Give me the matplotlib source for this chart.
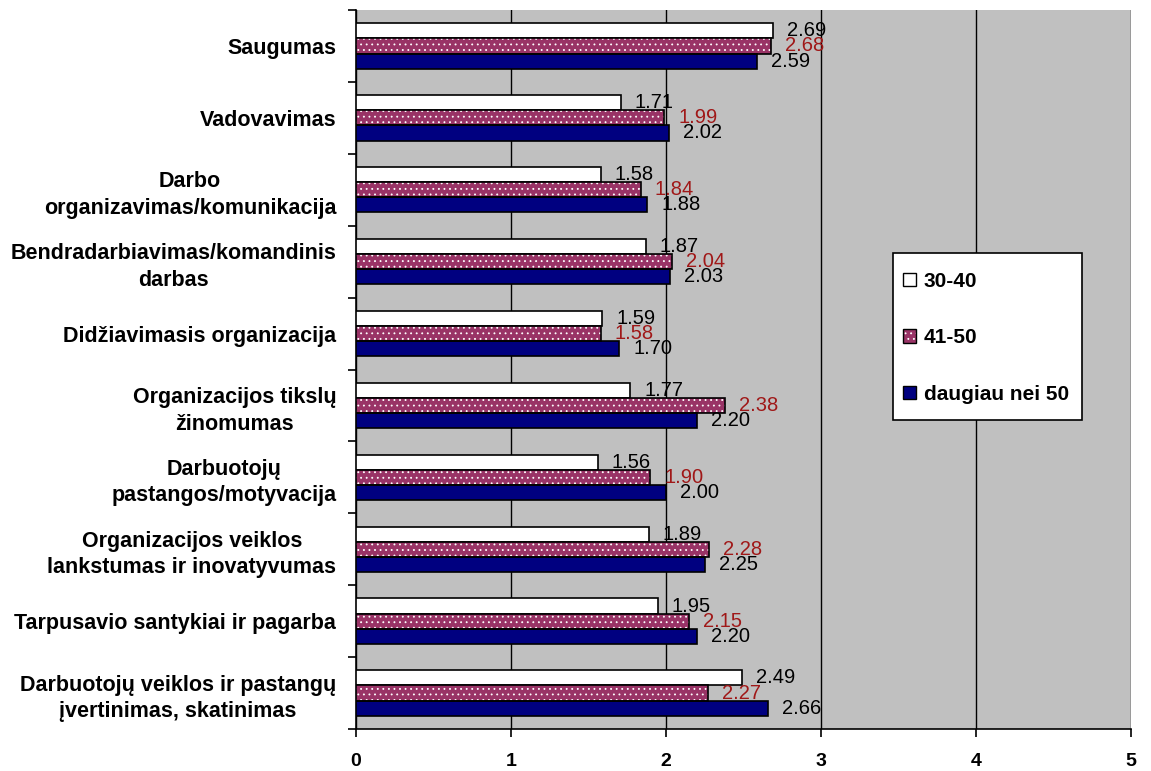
import matplotlib.pyplot as plt
import numpy as np
from matplotlib.patches import Patch, Rectangle

plt.rcParams['font.family'] = ['Liberation Sans', 'DejaVu Sans']
plt.rcParams['hatch.linewidth'] = 0.6

categories = [
    "Saugumas",
    "Vadovavimas",
    "Darbo\norganizavimas/komunikacija",
    "Bendradarbiavimas/komandinis\ndarbas",
    "Didžiavimasis organizacija",
    "Organizacijos tikslų\nžinomumas",
    "Darbuotojų\npastangos/motyvacija",
    "Organizacijos veiklos\nlankstumas ir inovatyvumas",
    "Tarpusavio santykiai ir pagarba",
    "Darbuotojų veiklos ir pastangų\nįvertinimas, skatinimas",
]
age_30_40 = [2.69, 1.71, 1.58, 1.87, 1.59, 1.77, 1.56, 1.89, 1.95, 2.49]
age_41_50 = [2.68, 1.99, 1.84, 2.04, 1.58, 2.38, 1.90, 2.28, 2.15, 2.27]
age_50_plus = [2.59, 2.02, 1.88, 2.03, 1.70, 2.20, 2.00, 2.25, 2.20, 2.66]
series_names = ["30-40", "41-50", "daugiau nei 50"]

fig = plt.figure(figsize=(11.51, 7.71), dpi=100)
ax = fig.add_axes([0.309, 0.0545, 0.6736, 0.9325])
ax.set_facecolor('#C0C0C0')

y = np.arange(len(categories))
h = 0.21

ax.barh(y - h, age_30_40, height=h, color='white', edgecolor='black',
        linewidth=1.2, zorder=3)
# dotted pink bars: fill with white dots, then black outline on top
ax.barh(y, age_41_50, height=h, color='#993366', edgecolor='white',
        hatch='...', linewidth=0, zorder=3)
ax.barh(y, age_41_50, height=h, color='none', edgecolor='black',
        linewidth=1.2, zorder=4)
ax.barh(y + h, age_50_plus, height=h, color='#000080', edgecolor='black',
        linewidth=1.2, zorder=3)

# value labels
for vals, off, col in [(age_30_40, -h, 'black'), (age_41_50, 0, '#A01818'),
                       (age_50_plus, h, 'black')]:
    for i, v in enumerate(vals):
        ax.text(v + 0.09, i + off, f"{v:.2f}", va='center', ha='left',
                fontsize=14.5, color=col, zorder=5)

ax.set_xlim(0, 5)
ax.set_ylim(len(categories) - 0.5, -0.5)
ax.set_xticks(range(6))
ax.set_xticklabels([str(i) for i in range(6)], fontsize=14, fontweight='bold')
ax.xaxis.grid(True, color='black', linewidth=1)
ax.set_axisbelow(True)

ax.set_yticks(y)
ax.set_yticklabels(categories, fontsize=15.5, fontweight='bold',
                   multialignment='center', linespacing=1.35)
ax.set_yticks(np.arange(-0.5, len(categories), 1), minor=True)
ax.tick_params(axis='y', which='major', length=0, pad=14)
ax.tick_params(axis='y', which='minor', length=6, direction='out', width=1.2)
ax.tick_params(axis='x', length=6, direction='out', width=1.2, pad=11)

for s in ['top', 'right']:
    ax.spines[s].set_visible(False)
ax.spines['left'].set_linewidth(1.2)
ax.spines['bottom'].set_linewidth(1.2)

# legend box
box = Rectangle((0.693, 0.430), 0.244, 0.232, transform=ax.transAxes,
                facecolor='white', edgecolor='black', linewidth=1.2, zorder=9)
ax.add_patch(box)
handles = [
    Patch(facecolor='white', edgecolor='black'),
    (Patch(facecolor='#993366', edgecolor='white', hatch='...', linewidth=0),
     Patch(facecolor='none', edgecolor='black')),
    Patch(facecolor='#000080', edgecolor='black'),
]
leg = ax.legend(handles, series_names, loc='center left',
                bbox_to_anchor=(0.706, 0.544), prop={'weight': 'bold', 'size': 15},
                frameon=False, handlelength=0.6, handleheight=0.6,
                handletextpad=0.4, labelspacing=1.8, borderpad=0, borderaxespad=0)
leg.set_zorder(10)

plt.savefig("out.png", dpi=100)
plt.close()
